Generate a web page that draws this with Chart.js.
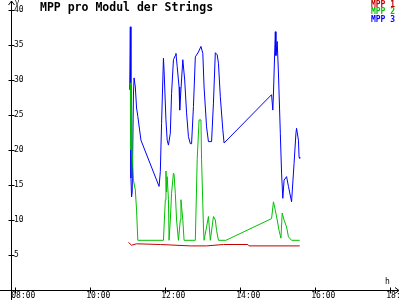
<!DOCTYPE html>
<html>
<head>
<meta charset="utf-8">
<script src="https://cdn.jsdelivr.net/npm/chart.js@4/dist/chart.umd.min.js"></script>
<style>
    html, body { margin: 0; padding: 0; background: #fff; }
    #wrap { width: 400px; height: 300px; }
</style>
</head>
<body>
<div id="wrap"><canvas id="mppChart"></canvas></div>
<script>
// data (time of day, volts)
const mpp1Times = ['11:01', '11:06', '11:14', '11:52', '12:40', '13:06', '13:33', '14:12', '14:14', '15:35'];
const mpp1Values = [6.8, 6.4, 6.6, 6.5, 6.3, 6.3, 6.5, 6.5, 6.3, 6.3];

const mpp2Times = ['11:04', '11:05', '11:06', '11:07', '11:09', '11:12', '11:14', '11:16', '11:57', '12:00',
    '12:01', '12:02', '12:03', '12:05', '12:06', '12:08', '12:10', '12:13', '12:14', '12:16',
    '12:18', '12:21', '12:24', '12:25', '12:28', '12:30', '12:48', '12:51', '12:54', '12:57',
    '12:58', '13:01', '13:02', '13:06', '13:09', '13:12', '13:17', '13:20', '13:22', '13:25',
    '13:37', '14:50', '14:53', '14:56', '14:59', '15:02', '15:05', '15:07', '15:10', '15:14',
    '15:17', '15:22', '15:35'];
const mpp2Values = [29.6, 20, 26.2, 19.6, 15.7, 14.3, 11.4, 7.1, 7.1, 12.9,
    17, 14, 16.2, 12.9, 7.1, 10, 13.8, 16.7, 16.5, 13.8,
    10, 7.1, 10, 12.9, 10, 7.1, 7.1, 18.6, 24.3, 24.3,
    18.6, 9, 7.1, 9, 10.5, 7.1, 10.5, 10, 8.5, 7.1,
    7.1, 10.2, 12.6, 11.4, 10, 8.5, 7.4, 11, 10, 9,
    7.6, 7.1, 7.1];

const mpp3Times = ['11:03', '11:04', '11:05', '11:06', '11:07', '11:09', '11:10', '11:12', '11:14', '11:16',
    '11:21', '11:50', '11:52', '11:54', '11:57', '11:58', '12:01', '12:03', '12:05', '12:08',
    '12:10', '12:13', '12:16', '12:17', '12:19', '12:22', '12:23', '12:25', '12:28', '12:31',
    '12:34', '12:37', '12:40', '12:42', '12:45', '12:48', '12:53', '12:57', '13:00', '13:02',
    '13:06', '13:09', '13:14', '13:17', '13:20', '13:23', '13:25', '13:28', '13:32', '13:34',
    '14:50', '14:52', '14:53', '14:56', '14:57', '14:59', '15:01', '15:04', '15:06', '15:08',
    '15:10', '15:14', '15:17', '15:22', '15:26', '15:29', '15:30', '15:33', '15:34', '15:35'];
const mpp3Values = [28.6, 37.6, 16, 13.3, 14, 28, 30.3, 29, 26, 24.8,
    21.4, 14.8, 16.9, 23.8, 33.1, 31.4, 24.3, 21.4, 20.7, 22.4,
    28.1, 32.9, 33.5, 33.8, 31.9, 29, 25.7, 28.6, 32.9, 30,
    25.3, 21.9, 20.9, 20.9, 26.2, 33.3, 34, 34.8, 33.8, 29,
    23.3, 21.2, 21.2, 26.7, 33.9, 33.6, 32.4, 27.6, 22.9, 21,
    27.9, 25.7, 28, 36.9, 33.5, 35.5, 31, 22.4, 16.7, 13.1,
    15.7, 16.2, 14.8, 12.6, 18.1, 22.4, 23.1, 21.4, 19, 18.8];

const seriesNames = ['MPP 1', 'MPP 2', 'MPP 3'];
const seriesColors = ['#c00000', '#00c000', '#0000ff'];

const xTickHours = [8, 10, 12, 14, 16, 18];
const xTickLabels = ['08:00', '10:00', '12:00', '14:00', '16:00', '18:00'];
const yTickValues = [5, 10, 15, 20, 25, 30, 35, 40];

const toHours = (t) => {
    const [h, m] = t.split(':').map(Number);
    return h + m / 60;
};
const toPoints = (times, values) => times.map((t, i) => ({ x: toHours(t), y: values[i] }));

const mono = "'DejaVu Sans Mono', monospace";

// axis arrows, crossing tick marks, title and legend text
const decorations = {
    id: 'decorations',
    afterDraw(chart) {
        const c = chart.ctx;
        const xs = chart.scales.x;
        const ys = chart.scales.y;
        const ax = Math.round(chart.chartArea.left) + 0.5;
        const ay = Math.round(chart.chartArea.bottom) + 0.5;
        c.save();
        c.strokeStyle = '#000';
        c.lineWidth = 1;
        c.beginPath();
        // y axis with arrow
        c.moveTo(ax, 300); c.lineTo(ax, 1);
        c.moveTo(ax - 3, 5); c.lineTo(ax, 1); c.lineTo(ax + 3, 5);
        // x axis with arrow
        c.moveTo(0, ay); c.lineTo(399, ay);
        c.moveTo(395, ay - 3); c.lineTo(399, ay); c.lineTo(395, ay + 3);
        xs.ticks.forEach(t => {
            const px = Math.round(xs.getPixelForValue(t.value)) + 0.5;
            c.moveTo(px, ay - 3); c.lineTo(px, ay + 3);
        });
        ys.ticks.forEach(t => {
            const py = Math.round(ys.getPixelForValue(t.value)) + 0.5;
            c.moveTo(ax - 3, py); c.lineTo(ax + 3, py);
        });
        c.stroke();

        c.fillStyle = '#000';
        c.font = 'bold 11.5px ' + mono;
        c.textAlign = 'left';
        c.textBaseline = 'alphabetic';
        c.fillText('MPP pro Modul der Strings', 40, 11);

        c.font = '7px ' + mono;
        c.fillText('V', 15, 5);
        c.font = '8px ' + mono;
        c.fillText('h', 385, 284);

        c.font = 'bold 8px ' + mono;
        c.textAlign = 'right';
        seriesNames.forEach((name, i) => {
            c.fillStyle = seriesColors[i];
            c.fillText(name, 395, 7 + i * 7.4);
        });
        c.restore();
    }
};

const ctx = document.getElementById('mppChart');
new Chart(ctx, {
    type: 'line',
    data: {
        datasets: [
            { label: seriesNames[0], data: toPoints(mpp1Times, mpp1Values), borderColor: seriesColors[0] },
            { label: seriesNames[1], data: toPoints(mpp2Times, mpp2Values), borderColor: seriesColors[1] },
            { label: seriesNames[2], data: toPoints(mpp3Times, mpp3Values), borderColor: seriesColors[2] }
        ]
    },
    options: {
        responsive: true,
        maintainAspectRatio: false,
        animation: false,
        layout: { padding: { left: 8, right: 5, top: 10, bottom: 0 } },
        elements: {
            line: { borderWidth: 1, tension: 0, fill: false },
            point: { radius: 0 }
        },
        plugins: {
            legend: { display: false },
            tooltip: { enabled: false }
        },
        scales: {
            x: {
                type: 'linear',
                min: 7.885,
                max: 18.125,
                grid: { display: false, drawTicks: false },
                border: { display: false },
                afterBuildTicks: (scale) => {
                    scale.ticks = xTickHours.map(v => ({ value: v }));
                },
                afterFit: (scale) => {
                    scale.height = 10;
                    scale.paddingLeft = 0;
                    scale.paddingRight = 0;
                },
                ticks: {
                    autoSkip: false,
                    maxRotation: 0,
                    padding: 2,
                    labelOffset: 8,
                    color: '#000',
                    font: { family: mono, size: 8, lineHeight: 1 },
                    callback: (v) => xTickLabels[xTickHours.indexOf(v)]
                }
            },
            y: {
                min: 0,
                max: 40,
                grid: { display: false, drawTicks: false },
                border: { display: false },
                afterBuildTicks: (scale) => {
                    scale.ticks = yTickValues.map(v => ({ value: v }));
                },
                afterFit: (scale) => {
                    scale.width = 3;
                    scale.paddingTop = 0;
                    scale.paddingBottom = 0;
                },
                ticks: {
                    mirror: true,
                    padding: 3,
                    color: '#000',
                    font: { family: mono, size: 8 }
                }
            }
        }
    },
    plugins: [decorations]
});
</script>
</body>
</html>
